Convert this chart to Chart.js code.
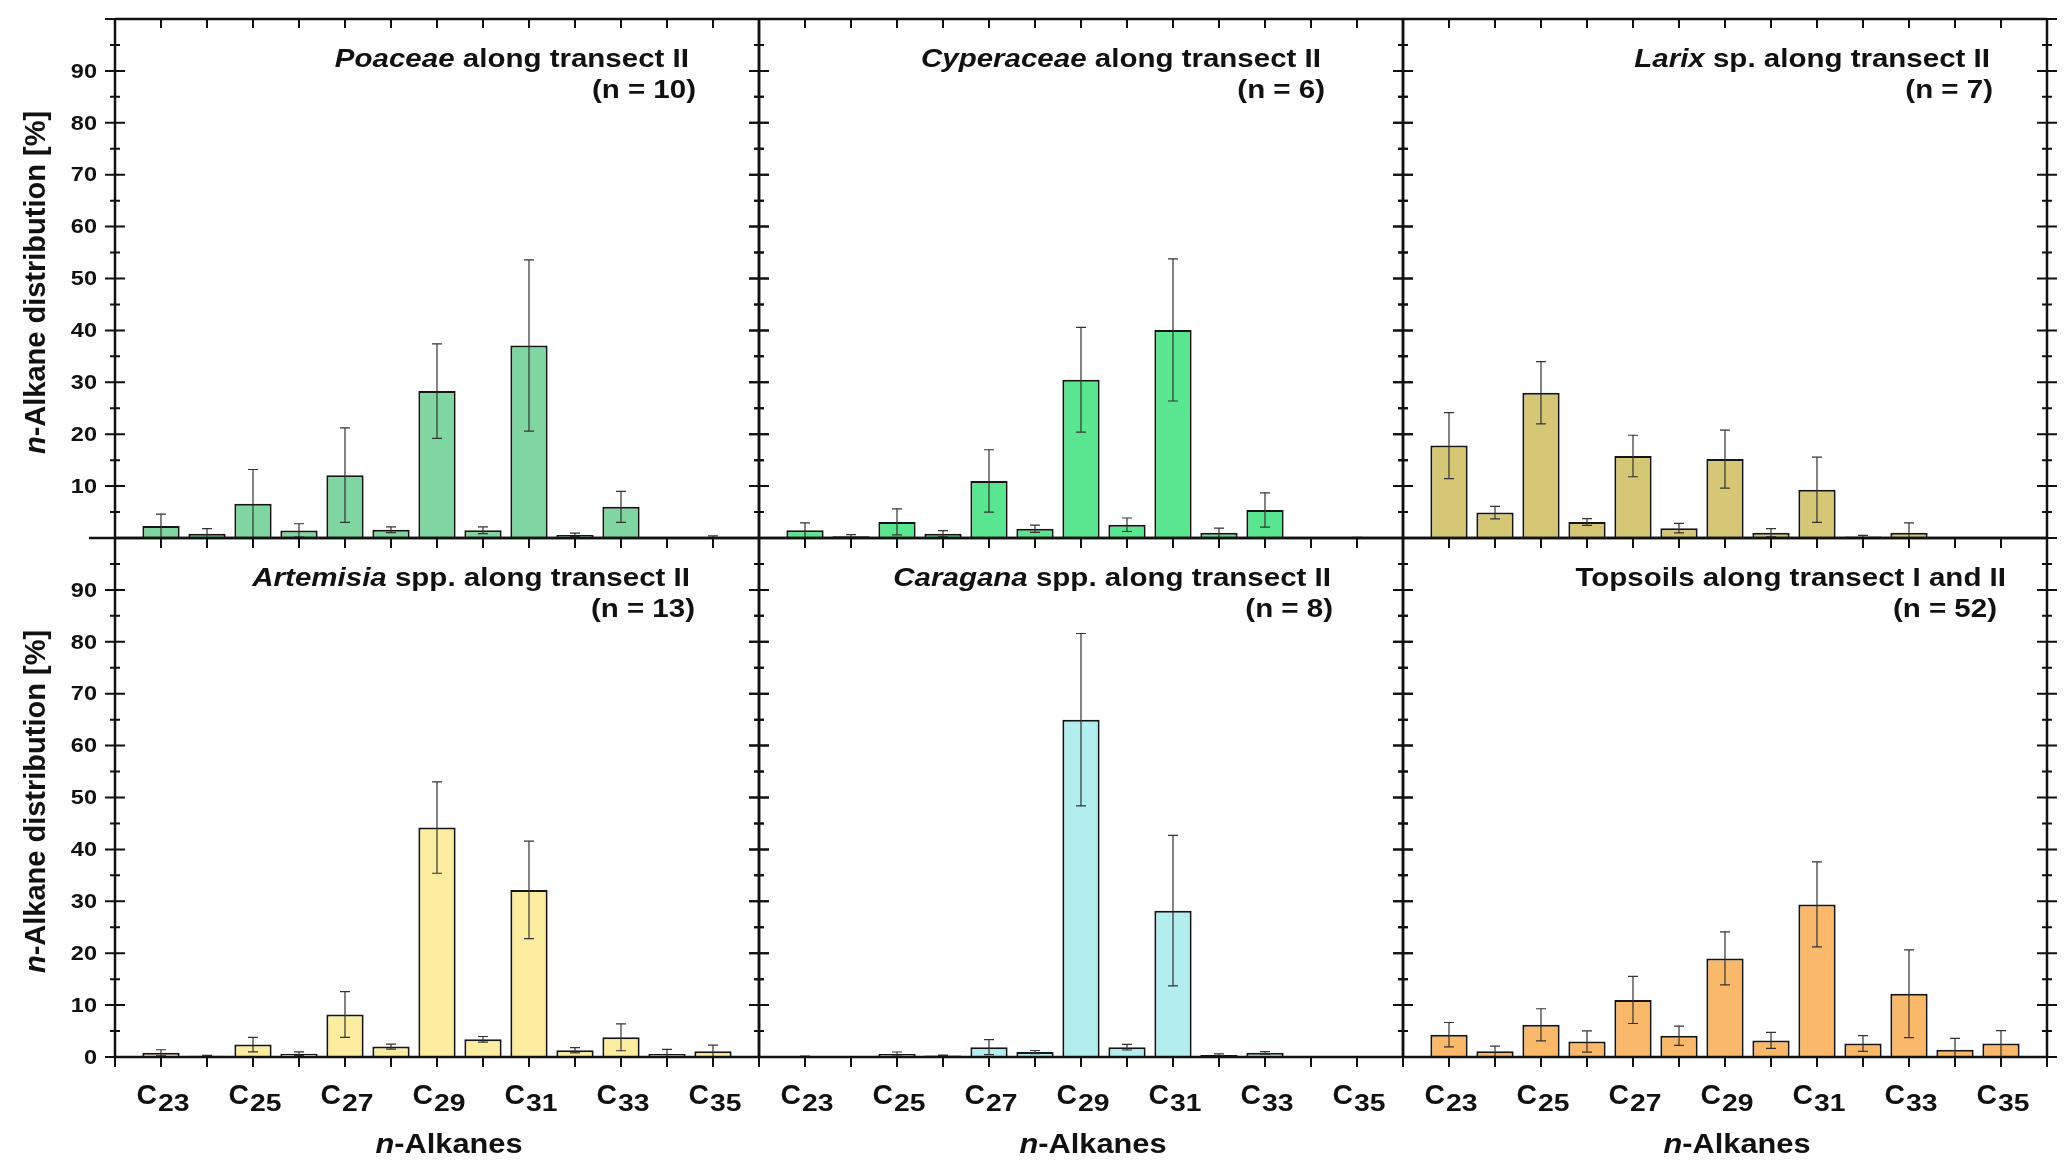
<!DOCTYPE html>
<html lang="en">
  <head>
    <meta charset="UTF-8" />
    <script src="https://cdn.jsdelivr.net/npm/chart.js"></script>
    <title>n-Alkane distribution</title>
    <style>
      body { margin: 0; background: #fff; }
      #page { position: relative; width: 2067px; height: 1171px; overflow: hidden; }
      #page canvas { position: absolute; }
    </style>
  </head>
  <body>
    <div id="page"></div>

    <script>
      // carbon chain lengths on the x axis
      const carbon = [23, 24, 25, 26, 27, 28, 29, 30, 31, 32, 33, 34, 35];
      const tickNums = [23, 25, 27, 29, 31, 33, 35];

      // mean share [%] and standard deviation per panel
      const poaceaeMean = [2.3, 0.8, 6.6, 1.45, 12.1, 1.6, 28.3, 1.5, 37.1, 0.6, 6.0, 0, 0.2];
      const poaceaeSd = [2.3, 1.0, 6.6, 1.3, 9.1, 0.55, 9.1, 0.65, 16.5, 0.35, 3.0, 0, 0.2];

      const cyperaceaeMean = [1.5, 0.35, 3.1, 0.83, 11.0, 1.8, 30.5, 2.55, 40.1, 1.0, 5.4, 0, 0.07];
      const cyperaceaeSd = [1.4, 0.3, 2.5, 0.6, 6.0, 0.7, 10.1, 1.3, 13.7, 0.9, 3.3, 0, 0.05];

      const larixMean = [17.8, 4.9, 28.0, 3.1, 15.8, 1.9, 15.2, 1.0, 9.3, 0.3, 1.0, 0, 0];
      const larixSd = [6.35, 1.2, 6.0, 0.65, 4.0, 0.9, 5.6, 0.8, 6.3, 0.2, 1.9, 0, 0];

      const artemisiaMean = [0.8, 0.24, 2.4, 0.64, 8.2, 2.0, 44.2, 3.4, 32.2, 1.3, 3.8, 0.56, 1.1];
      const artemisiaSd = [0.6, 0.1, 1.4, 0.35, 4.4, 0.5, 8.8, 0.55, 9.4, 0.5, 2.6, 0.9, 1.2];

      const caraganaMean = [0.1, 0, 0.56, 0.3, 1.9, 0.95, 65.0, 1.9, 28.2, 0.4, 0.8, 0, 0];
      const caraganaSd = [0.05, 0, 0.4, 0.05, 1.45, 0.3, 16.6, 0.55, 14.5, 0.2, 0.25, 0, 0];

      const topsoilMean = [4.3, 1.1, 6.2, 3.0, 11.0, 4.1, 19.0, 3.2, 29.4, 2.6, 12.2, 1.4, 2.6];
      const topsoilSd = [2.35, 1.0, 3.1, 2.05, 4.55, 1.85, 5.1, 1.55, 8.2, 1.5, 8.45, 2.2, 2.5];

      const FONT = "'Liberation Sans', Arial, sans-serif";
      const INK = "#111";
      const WIDE = 1.18; // the original lettering is a bit wider than Arial

      // panel geometry (chart area of each panel)
      const COL_X = [115, 759, 1403];
      const ROW_Y = [19, 538];
      const PW = 644, PH = 519;
      const PAD_L = 115, PAD_T = 19, PAD_R = 20;

      const panels = [
        { row: 0, col: 0, mean: poaceaeMean, sd: poaceaeSd, color: "#80d6a1",
          title: [["Poaceae", true], [" along transect II", false]], n: "(n = 10)", tr: 70, nr: 63 },
        { row: 0, col: 1, mean: cyperaceaeMean, sd: cyperaceaeSd, color: "#5ae690",
          title: [["Cyperaceae", true], [" along transect II", false]], n: "(n = 6)", tr: 82, nr: 78 },
        { row: 0, col: 2, mean: larixMean, sd: larixSd, color: "#d6c776",
          title: [["Larix", true], [" sp. along transect II", false]], n: "(n = 7)", tr: 57, nr: 54 },
        { row: 1, col: 0, mean: artemisiaMean, sd: artemisiaSd, color: "#fcec9f",
          title: [["Artemisia", true], [" spp. along transect II", false]], n: "(n = 13)", tr: 69, nr: 64 },
        { row: 1, col: 1, mean: caraganaMean, sd: caraganaSd, color: "#b2eef0",
          title: [["Caragana", true], [" spp. along transect II", false]], n: "(n = 8)", tr: 72, nr: 70 },
        { row: 1, col: 2, mean: topsoilMean, sd: topsoilSd, color: "#f9b86a",
          title: [["Topsoils along transect I and II", false]], n: "(n = 52)", tr: 41, nr: 50 },
      ];

      const setFont = (ctx, size, it) => {
        ctx.font = (it ? "italic " : "") + "bold " + size + "px " + FONT;
      };
      const piecesWidth = (ctx, pieces, size, sx) => {
        let w = 0;
        pieces.forEach(([t, it]) => {
          setFont(ctx, size, it);
          w += ctx.measureText(t).width;
        });
        return w * sx;
      };
      // draws [text, italic] pieces from the left edge x, stretched by sx
      const drawPieces = (ctx, pieces, x, y, size, sx) => {
        ctx.save();
        ctx.translate(x, y);
        ctx.scale(sx, 1);
        let cx = 0;
        pieces.forEach(([t, it]) => {
          setFont(ctx, size, it);
          ctx.fillText(t, cx, 0);
          cx += ctx.measureText(t).width;
        });
        ctx.restore();
      };

      const errorBars = {
        id: "errorBars",
        afterDatasetsDraw(chart, args, opts) {
          const ctx = chart.ctx;
          const y = chart.scales.y;
          const meta = chart.getDatasetMeta(0);
          ctx.save();
          ctx.strokeStyle = "#333";
          ctx.lineWidth = 1.2;
          meta.data.forEach((bar, i) => {
            const m = opts.mean[i], s = opts.sd[i];
            if (!s) return;
            const top = y.getPixelForValue(m + s);
            const bot = y.getPixelForValue(Math.max(0, m - s));
            ctx.beginPath();
            ctx.moveTo(bar.x, top);
            ctx.lineTo(bar.x, bot);
            ctx.moveTo(bar.x - 5, top);
            ctx.lineTo(bar.x + 5, top);
            ctx.moveTo(bar.x - 5, bot);
            ctx.lineTo(bar.x + 5, bot);
            ctx.stroke();
          });
          ctx.restore();
        },
      };

      const frame = {
        id: "frame",
        afterDraw(chart, args, opts) {
          const ctx = chart.ctx;
          const { left, right, top, bottom } = chart.chartArea;
          const x = chart.scales.x, y = chart.scales.y;
          ctx.save();
          ctx.strokeStyle = INK;
          ctx.lineCap = "butt";

          // y ticks on both sides, crossing the axis
          ctx.lineWidth = 2;
          ctx.beginPath();
          for (let v = 0; v <= 100; v += 5) {
            const py = y.getPixelForValue(v);
            const len = v % 10 === 0 ? 10 : 5;
            ctx.moveTo(left - len, py); ctx.lineTo(left + len, py);
            ctx.moveTo(right - len, py); ctx.lineTo(right + len, py);
          }
          // x ticks: inward at the top, outward at the bottom
          carbon.forEach((c) => {
            const px = x.getPixelForValue(c);
            ctx.moveTo(px, top); ctx.lineTo(px, top + 9);
            ctx.moveTo(px, bottom); ctx.lineTo(px, bottom + 10);
          });
          ctx.moveTo(left, bottom); ctx.lineTo(left, bottom + 10);
          ctx.moveTo(right, bottom); ctx.lineTo(right, bottom + 10);
          ctx.stroke();

          // frame
          ctx.lineWidth = 2.5;
          ctx.beginPath();
          ctx.moveTo(left, top); ctx.lineTo(right, top);
          ctx.moveTo(right, top); ctx.lineTo(right, bottom);
          ctx.moveTo(left, top); ctx.lineTo(left, bottom);
          ctx.moveTo(opts.row === 0 && opts.col === 0 ? left - 26 : left, bottom);
          ctx.lineTo(right, bottom);
          ctx.stroke();

          ctx.fillStyle = INK;
          ctx.textBaseline = "alphabetic";

          // y tick labels from the scale's own ticks
          if (opts.col === 0) {
            ctx.textBaseline = "middle";
            y.ticks.forEach((t) => {
              if (t.value === 100 || (t.value === 0 && opts.row === 0)) return;
              const s = String(t.value);
              const w = piecesWidth(ctx, [[s, false]], 21, 1.12);
              drawPieces(ctx, [[s, false]], left - 18 - w, y.getPixelForValue(t.value) + 1, 21, 1.12);
            });
            ctx.textBaseline = "alphabetic";
          }

          // panel title, right aligned
          const size = 25;
          const tw = piecesWidth(ctx, opts.title, size, WIDE);
          drawPieces(ctx, opts.title, right - opts.tr - tw, top + 48, size, WIDE);
          const nw = piecesWidth(ctx, [[opts.n, false]], size, WIDE);
          drawPieces(ctx, [[opts.n, false]], right - opts.nr - nw, top + 79, size, WIDE);

          // y axis title on the left column
          if (opts.col === 0) {
            const yt = [["n", true], ["-Alkane distribution [%]", false]];
            const w = piecesWidth(ctx, yt, 29, 1);
            ctx.save();
            ctx.translate(45, (top + bottom) / 2 + 4);
            ctx.rotate(-Math.PI / 2);
            drawPieces(ctx, yt, -w / 2, 0, 29, 1);
            ctx.restore();
          }

          // x tick labels and title on the bottom row
          if (opts.row === 1) {
            tickNums.forEach((n) => {
              const px = x.getPixelForValue(n) + 2;
              const cw = piecesWidth(ctx, [["C", false]], 27, 1.05);
              const sw = piecesWidth(ctx, [[String(n), false]], 24, 1.18);
              const sx = px - (cw + sw + 1) / 2;
              drawPieces(ctx, [["C", false]], sx, bottom + 47, 27, 1.05);
              drawPieces(ctx, [[String(n), false]], sx + cw + 1, bottom + 54, 24, 1.18);
            });
            const xt = [["n", true], ["-Alkanes", false]];
            const w = piecesWidth(ctx, xt, 27, 1.14);
            drawPieces(ctx, xt, (left + right) / 2 + 12 - w / 2, bottom + 96, 27, 1.14);
          }
          ctx.restore();
        },
      };

      const page = document.getElementById("page");

      panels.forEach((p) => {
        const padB = p.row === 1 ? 1171 - (ROW_Y[1] + PH) : 20;
        const canvas = document.createElement("canvas");
        canvas.width = PAD_L + PW + PAD_R;
        canvas.height = PAD_T + PH + padB;
        canvas.style.left = COL_X[p.col] - PAD_L + "px";
        canvas.style.top = ROW_Y[p.row] - PAD_T + "px";
        canvas.style.width = canvas.width + "px";
        canvas.style.height = canvas.height + "px";
        page.appendChild(canvas);

        new Chart(canvas, {
          type: "bar",
          data: {
            datasets: [
              {
                data: carbon.map((c, i) => ({ x: c, y: p.mean[i] })),
                backgroundColor: p.color,
                borderColor: "#151515",
                borderWidth: 2,
                barPercentage: 0.81,
                categoryPercentage: 1,
              },
            ],
          },
          options: {
            responsive: false,
            animation: false,
            devicePixelRatio: 1,
            layout: { padding: { top: PAD_T, right: PAD_R, left: 0, bottom: 0 } },
            plugins: {
              legend: { display: false },
              tooltip: { enabled: false },
              errorBars: { mean: p.mean, sd: p.sd },
              frame: p,
            },
            scales: {
              x: {
                type: "linear",
                min: 22,
                max: 36,
                offset: false,
                grid: { display: false },
                border: { display: false },
                ticks: { display: false, stepSize: 1 },
                afterFit: (s) => { s.height = padB; },
              },
              y: {
                min: 0,
                max: 100,
                grid: { display: false },
                border: { display: false },
                ticks: { display: false, stepSize: 10 },
                afterFit: (s) => { s.width = PAD_L; },
              },
            },
          },
          plugins: [errorBars, frame],
        });
      });
    </script>
  </body>
</html>
